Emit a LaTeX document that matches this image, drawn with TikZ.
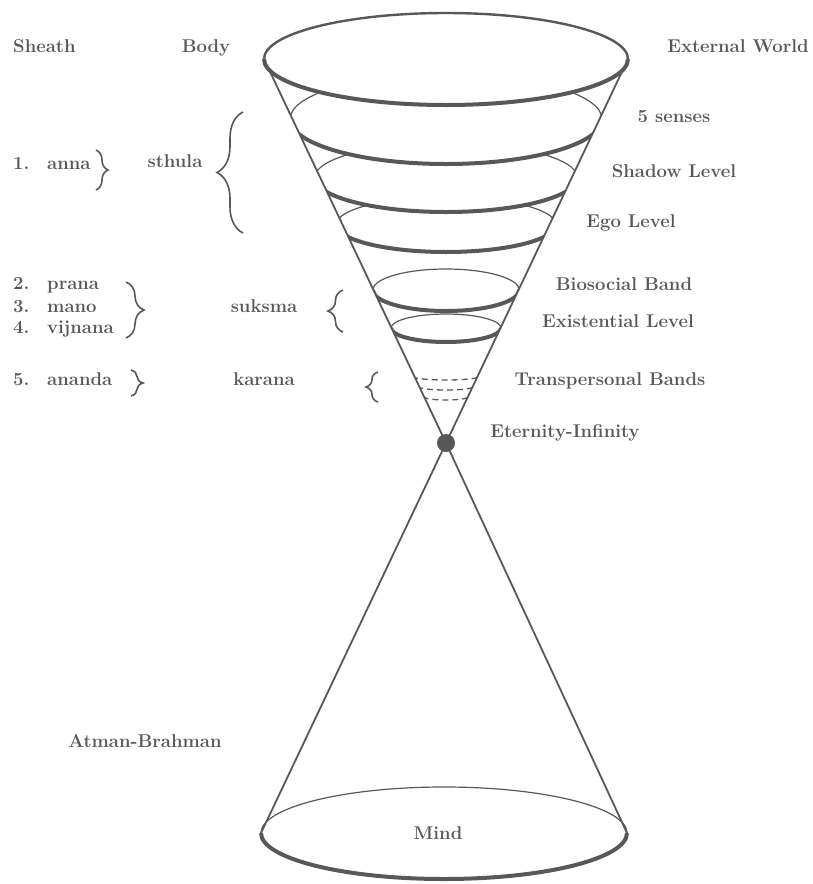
\documentclass[tikz,border=0pt]{standalone}
\usetikzlibrary{positioning, decorations.pathreplacing}
\definecolor{ink}{RGB}{88,88,88}

\begin{document}
\begin{tikzpicture}[
    x=1pt, y=-1pt,
    txt/.style={font=\fontsize{18.5}{22}\selectfont\bfseries, text=ink, inner sep=0pt, anchor=mid},
    coneline/.style={draw=ink, line width=1.8pt},
    backarc/.style={draw=ink, line width=1.2pt},
    frontarc/.style={draw=ink, line width=4pt},
    band/.style={draw=ink, line width=1.3pt, dash pattern=on 6pt off 4pt},
    curly/.style={decorate, decoration={brace, amplitude=#1}, draw=ink, line width=1.6pt},
    dot/.style={circle, fill=ink, minimum size=18pt, inner sep=0pt},
]
\useasboundingbox (0,0) rectangle (812,884);

% cone corners
\coordinate (tl) at (264,59);
\coordinate (tr) at (628,59);
\coordinate (bl) at (261,833);
\coordinate (br) at (627,833);
\coordinate (apexc) at (446,443);

% lower cone and the Mind disc
\draw[coneline] (apexc) -- (bl) (apexc) -- (br);
\draw[backarc] (bl) arc[start angle=180, end angle=360, x radius=183, y radius=46];
\draw[frontarc] (bl) arc[start angle=180, end angle=0, x radius=183, y radius=46];

% rings, from the bottom up
\begin{scope}
\clip (tl) -- (tr) -- (apexc) -- cycle;
\foreach \cy/\rx/\ry in {328/55/14, 290/73.2/21, 224.5/109.8/27.5, 177.5/131.3/34.5, 119/156/45}{
    \filldraw[fill=white, backarc] (446,\cy) ellipse[x radius=\rx, y radius=\ry];
    \draw[frontarc] ({446+\rx},\cy) arc[start angle=0, end angle=180, x radius=\rx, y radius=\ry];
}
% transpersonal bands
\foreach \y/\w in {377/31.3, 387/26.5, 397/21.8}{
    \draw[band] ({446+\w},\y) arc[start angle=0, end angle=180, x radius=\w, y radius=3];
}
\end{scope}

% upper cone and the top disc
\draw[coneline] (tl) -- (apexc) -- (tr);
\filldraw[fill=white, draw=ink, line width=2.4pt] (446,59) ellipse[x radius=182, y radius=46];
\draw[frontarc] (tl) arc[start angle=180, end angle=0, x radius=182, y radius=46];

\node[dot] (apex) at (apexc) {};

% right column
\node[txt] (world) at (738,50) {External World};
\node[txt] (senses) at (674,120) {5 senses};
\node[txt] (shadow) at (674,175) {Shadow Level};
\node[txt] (ego) at (631,225) {Ego Level};
\node[txt] (biosocial) at (624,288) {Biosocial Band};
\node[txt] (existential) at (618,325) {Existential Level};
\node[txt] (transpersonal) at (610,383) {Transpersonal Bands};
\node[txt] (eternity) at (565,435) {Eternity-Infinity};

% sheaths
\node[txt, anchor=mid west] (sheath) at (13,50) {Sheath};
\node[txt, anchor=mid west] (n1) at (13,167) {1.};
\node[txt, anchor=mid west] (anna) at (47,167) {anna};
\node[txt, anchor=mid west] (n2) at (13,287) {2.};
\node[txt, anchor=mid west] (prana) at (47,287) {prana};
\node[txt, anchor=mid west] (n3) at (13,310) {3.};
\node[txt, anchor=mid west] (mano) at (47,310) {mano};
\node[txt, anchor=mid west] (n4) at (13,331) {4.};
\node[txt, anchor=mid west] (vijnana) at (47,331) {vijnana};
\node[txt, anchor=mid west] (n5) at (13,383) {5.};
\node[txt, anchor=mid west] (ananda) at (47,383) {ananda};

% bodies
\node[txt] (body) at (206,50) {Body};
\node[txt] (sthula) at (175,165) {sthula};
\node[txt] (suksma) at (264,310) {suksma};
\node[txt] (karana) at (264,383) {karana};

\node[txt] (atman) at (145,745) {Atman-Brahman};
\node[txt] (mind) at (438,837) {Mind};

% braces
\coordinate (annaT) at (96,150);   \coordinate (annaB) at (96,190);
\coordinate (sthulaT) at (243,112); \coordinate (sthulaB) at (243,233);
\coordinate (pranaT) at (126,282);  \coordinate (pranaB) at (126,338);
\coordinate (suksmaT) at (343,290); \coordinate (suksmaB) at (343,332);
\coordinate (anandaT) at (131,370); \coordinate (anandaB) at (131,396);
\coordinate (karanaT) at (378,372); \coordinate (karanaB) at (378,402);

\draw[curly=12] (annaT) -- (annaB);
\draw[curly=26] (sthulaB) -- (sthulaT);
\draw[curly=18] (pranaT) -- (pranaB);
\draw[curly=15] (suksmaB) -- (suksmaT);
\draw[curly=12] (anandaT) -- (anandaB);
\draw[curly=12] (karanaB) -- (karanaT);

\end{tikzpicture}
\end{document}
